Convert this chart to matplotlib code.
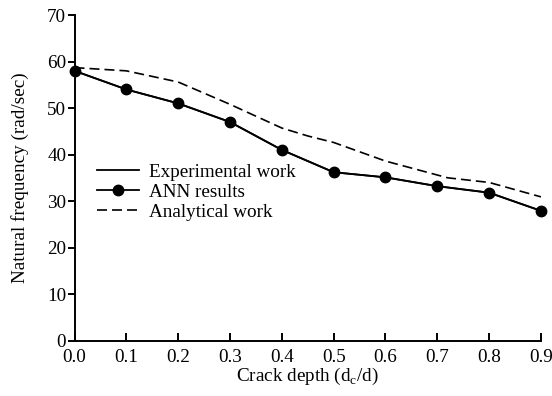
import matplotlib
matplotlib.use("Agg")
import matplotlib.pyplot as plt

crack_depth = [0.0, 0.1, 0.2, 0.3, 0.4, 0.5, 0.6, 0.7, 0.8, 0.9]
experimental = [58.0, 54.0, 51.0, 47.0, 41.0, 36.2, 35.1, 33.2, 31.8, 27.9]
ann_results = [58.0, 54.0, 51.0, 47.0, 41.0, 36.2, 35.1, 33.2, 31.8, 27.9]
analytical_x = [0.0, 0.1, 0.2, 0.3, 0.4, 0.45, 0.5, 0.6, 0.7, 0.72, 0.8, 0.9]
analytical = [58.7, 58.0, 55.6, 50.8, 45.7, 44.0, 42.6, 38.6, 35.6, 35.0, 34.0, 30.9]
xticks = [0.0, 0.1, 0.2, 0.3, 0.4, 0.5, 0.6, 0.7, 0.8, 0.9]
yticks = [0, 10, 20, 30, 40, 50, 60, 70]

plt.rcParams['font.family'] = ['Liberation Serif', 'DejaVu Serif']
plt.rcParams['font.size'] = 13.8
plt.rcParams['mathtext.fontset'] = 'custom'
plt.rcParams['mathtext.rm'] = 'Liberation Serif'

fig = plt.figure(figsize=(5.52, 3.96), dpi=100)
ax = fig.add_axes([0.135, 0.140, 0.845, 0.822])

ax.plot(crack_depth, experimental, color='black', lw=1.3, label='Experimental work', zorder=2)
ax.plot(crack_depth, ann_results, color='black', lw=1.3, marker='o', markersize=7.5,
        label='ANN results', zorder=3, clip_on=False)
ax.plot(analytical_x, analytical, color='black', lw=1.2, ls=(0, (6, 3)), label='Analytical work', zorder=1)

ax.set_xlim(0.0, 0.9)
ax.set_ylim(0, 70)
ax.set_xticks(xticks)
ax.set_xticklabels([f"{t:.1f}" for t in xticks])
ax.set_yticks(yticks)
ax.spines['top'].set_visible(False)
ax.spines['right'].set_visible(False)
for s in ['left', 'bottom']:
    ax.spines[s].set_linewidth(1.4)
ax.tick_params(axis='x', direction='in', length=6, width=1.4, pad=6)
ax.tick_params(axis='y', direction='out', length=5, width=1.4, pad=1)

ax.set_xlabel(r'Crack depth (d$_\mathrm{c}$/d)', labelpad=0)
ax.set_ylabel('Natural frequency (rad/sec)', labelpad=13)

leg = ax.legend(loc='upper left', bbox_to_anchor=(0.048, 0.545), frameon=False,
                handlelength=2.2, handletextpad=0.5, labelspacing=0.15,
                borderpad=0.0, borderaxespad=0.0)

fig.savefig('out.png', dpi=100)
